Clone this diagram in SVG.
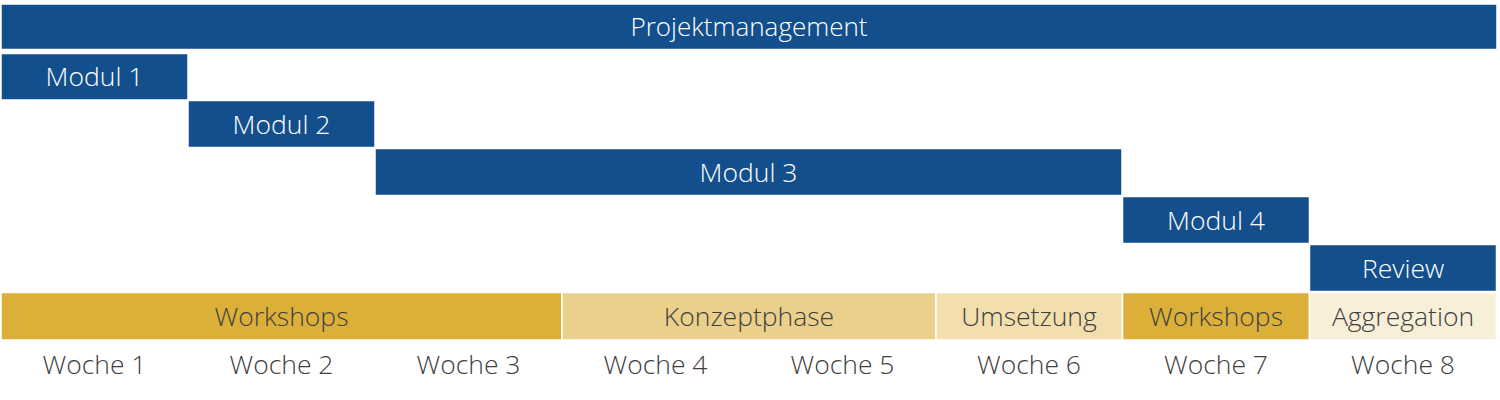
<svg xmlns="http://www.w3.org/2000/svg" width="1500" height="400" viewBox="0 0 1500 400">
<style>
.bar{fill:#134F8C;stroke:#ffffff;stroke-width:1.5}
.ph{stroke:#ffffff;stroke-width:1.5}
.wt{font-family:"Open Sans","Liberation Sans",sans-serif;font-weight:300;font-size:26.5px;fill:#ffffff;text-anchor:middle}
.pt{font-family:"Open Sans","Liberation Sans",sans-serif;font-weight:300;font-size:26.5px;fill:#404040;text-anchor:middle}
</style>
<rect width="1500" height="400" fill="#ffffff"/>
<g id="projektmanagement"><rect class="bar" x="1" y="4" width="1496" height="45.5"/><text class="wt" x="749" y="36" style="font-size:26px">Projektmanagement</text></g>
<g id="modul1"><rect class="bar" x="1" y="53.5" width="187" height="46.5"/><text class="wt" x="94.5" y="86">Modul 1</text></g>
<g id="modul2"><rect class="bar" x="188" y="100.5" width="187" height="47"/><text class="wt" x="281.5" y="133.5">Modul 2</text></g>
<g id="modul3"><rect class="bar" x="375" y="148.5" width="747" height="47"/><text class="wt" x="748.5" y="181.5">Modul 3</text></g>
<g id="modul4"><rect class="bar" x="1122.5" y="196.5" width="187" height="47"/><text class="wt" x="1216" y="229.5">Modul 4</text></g>
<g id="review"><rect class="bar" x="1309.5" y="244.5" width="187" height="47"/><text class="wt" x="1403" y="277.5">Review</text></g>
<g id="workshops1"><rect class="ph" fill="#DCB038" x="1" y="292.5" width="561" height="47.5"/><text class="pt" x="281.5" y="325.5">Workshops</text></g>
<g id="konzeptphase"><rect class="ph" fill="#EAD08A" x="562" y="292.5" width="374" height="47.5"/><text class="pt" x="749" y="325.5">Konzeptphase</text></g>
<g id="umsetzung"><rect class="ph" fill="#F2DFAD" x="936" y="292.5" width="186.5" height="47.5"/><text class="pt" x="1029" y="325.5">Umsetzung</text></g>
<g id="workshops2"><rect class="ph" fill="#DCB038" x="1122.5" y="292.5" width="187" height="47.5"/><text class="pt" x="1216" y="325.5">Workshops</text></g>
<g id="aggregation"><rect class="ph" fill="#F8EFD8" x="1309.5" y="292.5" width="187" height="47.5"/><text class="pt" x="1403" y="325.5">Aggregation</text></g>
<g id="wochen">
<text class="pt" x="94.5" y="374">Woche 1</text>
<text class="pt" x="281.5" y="374">Woche 2</text>
<text class="pt" x="468.5" y="374">Woche 3</text>
<text class="pt" x="655.5" y="374">Woche 4</text>
<text class="pt" x="842.5" y="374">Woche 5</text>
<text class="pt" x="1029" y="374">Woche 6</text>
<text class="pt" x="1216" y="374">Woche 7</text>
<text class="pt" x="1403" y="374">Woche 8</text>
</g>
<g id="connectors"/>
</svg>
